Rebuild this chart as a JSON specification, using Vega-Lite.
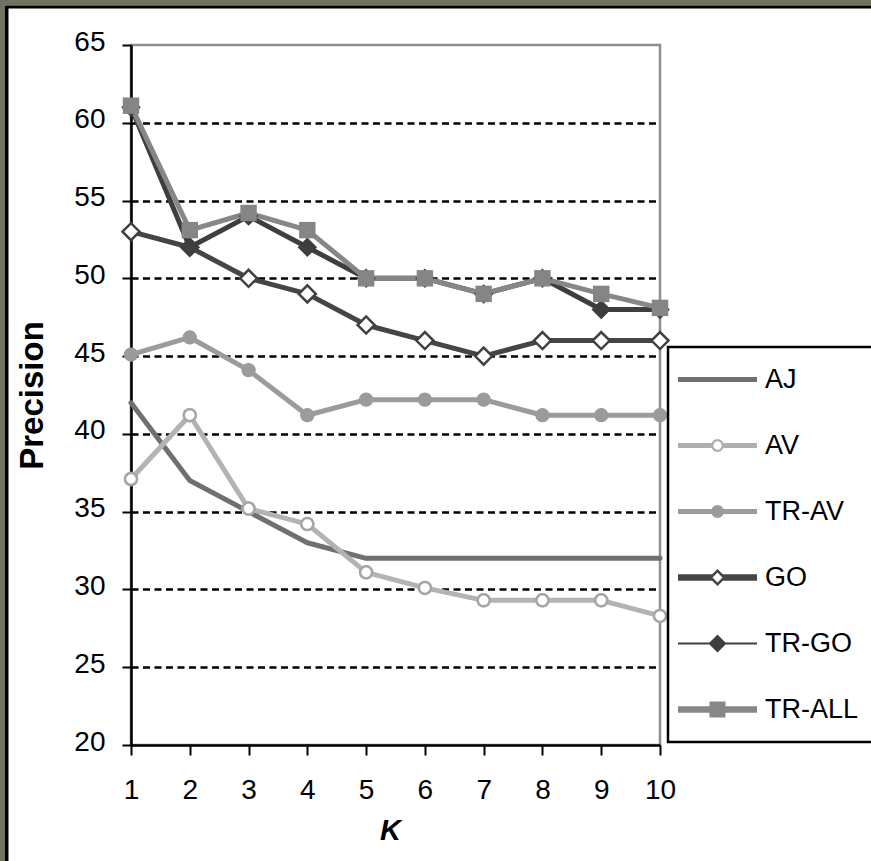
{
  "$schema": "https://vega.github.io/schema/vega-lite/v6.json",
  "width": 529,
  "height": 700,
  "autosize": {"type": "none"},
  "padding": {"left": 131, "top": 45, "right": 211, "bottom": 116},
  "background": "white",
  "config": {
    "view": {"stroke": "#8e8e8e", "strokeWidth": 2.5, "fill": "white"},
    "font": "Liberation Sans"
  },
  "datasets": {
    "precision": [
      {"k": 1, "series": "AJ", "p": 42}, {"k": 2, "series": "AJ", "p": 37}, {"k": 3, "series": "AJ", "p": 35}, {"k": 4, "series": "AJ", "p": 33}, {"k": 5, "series": "AJ", "p": 32},
      {"k": 6, "series": "AJ", "p": 32}, {"k": 7, "series": "AJ", "p": 32}, {"k": 8, "series": "AJ", "p": 32}, {"k": 9, "series": "AJ", "p": 32}, {"k": 10, "series": "AJ", "p": 32},
      {"k": 1, "series": "AV", "p": 37.1}, {"k": 2, "series": "AV", "p": 41.2}, {"k": 3, "series": "AV", "p": 35.2}, {"k": 4, "series": "AV", "p": 34.2}, {"k": 5, "series": "AV", "p": 31.1},
      {"k": 6, "series": "AV", "p": 30.1}, {"k": 7, "series": "AV", "p": 29.3}, {"k": 8, "series": "AV", "p": 29.3}, {"k": 9, "series": "AV", "p": 29.3}, {"k": 10, "series": "AV", "p": 28.3},
      {"k": 1, "series": "TR-AV", "p": 45.1}, {"k": 2, "series": "TR-AV", "p": 46.2}, {"k": 3, "series": "TR-AV", "p": 44.1}, {"k": 4, "series": "TR-AV", "p": 41.2}, {"k": 5, "series": "TR-AV", "p": 42.2},
      {"k": 6, "series": "TR-AV", "p": 42.2}, {"k": 7, "series": "TR-AV", "p": 42.2}, {"k": 8, "series": "TR-AV", "p": 41.2}, {"k": 9, "series": "TR-AV", "p": 41.2}, {"k": 10, "series": "TR-AV", "p": 41.2},
      {"k": 1, "series": "GO", "p": 53}, {"k": 2, "series": "GO", "p": 52}, {"k": 3, "series": "GO", "p": 50}, {"k": 4, "series": "GO", "p": 49}, {"k": 5, "series": "GO", "p": 47},
      {"k": 6, "series": "GO", "p": 46}, {"k": 7, "series": "GO", "p": 45}, {"k": 8, "series": "GO", "p": 46}, {"k": 9, "series": "GO", "p": 46}, {"k": 10, "series": "GO", "p": 46},
      {"k": 1, "series": "TR-GO", "p": 61}, {"k": 2, "series": "TR-GO", "p": 52}, {"k": 3, "series": "TR-GO", "p": 54}, {"k": 4, "series": "TR-GO", "p": 52}, {"k": 5, "series": "TR-GO", "p": 50},
      {"k": 6, "series": "TR-GO", "p": 50}, {"k": 7, "series": "TR-GO", "p": 49}, {"k": 8, "series": "TR-GO", "p": 50}, {"k": 9, "series": "TR-GO", "p": 48}, {"k": 10, "series": "TR-GO", "p": 48},
      {"k": 1, "series": "TR-ALL", "p": 61.1}, {"k": 2, "series": "TR-ALL", "p": 53.1}, {"k": 3, "series": "TR-ALL", "p": 54.2}, {"k": 4, "series": "TR-ALL", "p": 53.1}, {"k": 5, "series": "TR-ALL", "p": 50},
      {"k": 6, "series": "TR-ALL", "p": 50}, {"k": 7, "series": "TR-ALL", "p": 49}, {"k": 8, "series": "TR-ALL", "p": 50}, {"k": 9, "series": "TR-ALL", "p": 49}, {"k": 10, "series": "TR-ALL", "p": 48.1}
    ]
  },
  "resolve": {"scale": {"strokeWidth": "independent"}},
  "layer": [
    {
      "data": {"values": [{}]},
      "mark": {"type": "rect", "color": "#707262"},
      "encoding": {
        "x": {"datum": -3, "type": "quantitative", "scale": {"domain": [1, 10], "nice": false, "zero": false}},
        "x2": {"datum": -1.1437},
        "y": {"datum": 0, "type": "quantitative", "scale": {"domain": [20, 65], "nice": false, "zero": false}},
        "y2": {"datum": 90}
      }
    },
    {
      "data": {"values": [{}]},
      "mark": {"type": "rect", "color": "#707262"},
      "encoding": {
        "x": {"datum": -3, "type": "quantitative"},
        "x2": {"datum": 20},
        "y": {"datum": 67.54, "type": "quantitative"},
        "y2": {"datum": 90}
      }
    },
    {
      "data": {"values": [{}]},
      "mark": {"type": "rule", "color": "black", "strokeWidth": 3.5},
      "encoding": {
        "x": {"datum": -1.114, "type": "quantitative"},
        "y": {"datum": 0, "type": "quantitative"},
        "y2": {"datum": 67.5}
      }
    },
    {
      "data": {"values": [{}]},
      "mark": {"type": "rule", "color": "black", "strokeWidth": 3},
      "encoding": {
        "x": {"datum": -1.14, "type": "quantitative"},
        "x2": {"datum": 20},
        "y": {"datum": 67.443, "type": "quantitative"}
      }
    },
    {
      "data": {"name": "precision"},
      "mark": {"type": "line", "strokeCap": "round", "strokeJoin": "round"},
      "encoding": {
        "x": {
          "field": "k", "type": "quantitative",
          "scale": {"domain": [1, 10], "nice": false, "zero": false},
          "axis": {
            "title": "K", "values": [1, 2, 3, 4, 5, 6, 7, 8, 9, 10], "format": "d",
            "labelFlush": false, "labelOverlap": false, "labelBound": false,
            "labelFont": "Liberation Sans", "labelFontSize": 28, "labelColor": "black", "labelPadding": 21,
            "tickSize": 10, "tickWidth": 2, "tickColor": "black",
            "domainColor": "black", "domainWidth": 2.5, "grid": false,
            "titleFont": "Liberation Sans", "titleFontSize": 29, "titleFontWeight": "bold", "titleFontStyle": "italic",
            "titleColor": "black", "titlePadding": 12, "titleX": 259
          }
        },
        "y": {
          "field": "p", "type": "quantitative",
          "scale": {"domain": [20, 65], "nice": false, "zero": false},
          "axis": {
            "title": "Precision", "values": [20, 25, 30, 35, 40, 45, 50, 55, 60, 65],
            "labelOverlap": false, "labelBound": false,
            "labelFont": "Liberation Sans", "labelFontSize": 28, "labelColor": "black", "labelPadding": 17, "labelOffset": -3,
            "tickSize": 9, "tickWidth": 2, "tickColor": "black",
            "domainColor": "black", "domainWidth": 2.5,
            "grid": true, "gridColor": "black", "gridWidth": 2.5, "gridDash": [7, 4.5],
            "gridOpacity": {"condition": {"test": "datum.value == 20 || datum.value == 65", "value": 0}, "value": 1},
            "titleFont": "Liberation Sans", "titleFontSize": 33, "titleFontWeight": "bold",
            "titleColor": "black", "titlePadding": 24
          }
        },
        "stroke": {
          "field": "series", "type": "nominal",
          "scale": {
            "domain": ["AJ", "AV", "TR-AV", "GO", "TR-GO", "TR-ALL"],
            "range": ["#707070", "#b3b3b3", "#9b9b9b", "#454545", "#3e3e3e", "#878787"]
          },
          "legend": {
            "title": null, "orient": "none", "legendX": 537, "legendY": 302,
            "padding": 19, "fillColor": "white", "strokeColor": "black",
            "labelFont": "Liberation Sans", "labelFontSize": 27, "labelColor": "black",
            "labelOffset": 34, "symbolOffset": 17, "rowPadding": 38, "symbolSize": 400, "labelLimit": 0,
            "encode": {
              "legend": {"update": {"strokeWidth": {"value": 2.5}}},
              "symbols": {
                "update": {
                  "shape": {"signal": "datum.value === 'AJ' ? 'M-3.95,-0.25H3.95V0.25H-3.95Z' : datum.value === 'AV' ? 'M-3.95,-0.25H-0.6V0.25H-3.95Z M0.6,-0.25H3.95V0.25H0.6Z M0.65,0L0.563,0.325L0.325,0.563L0,0.65L-0.325,0.563L-0.563,0.325L-0.65,0L-0.563,-0.325L-0.325,-0.563L0,-0.65L0.325,-0.563L0.563,-0.325Z M0.42,0L0.364,-0.21L0.21,-0.364L0,-0.42L-0.21,-0.364L-0.364,-0.21L-0.42,0L-0.364,0.21L-0.21,0.364L0,0.42L0.21,0.364L0.364,0.21Z' : datum.value === 'TR-AV' ? 'M-3.95,-0.25H3.95V0.25H-3.95Z M0.65,0L0.563,0.325L0.325,0.563L0,0.65L-0.325,0.563L-0.563,0.325L-0.65,0L-0.563,-0.325L-0.325,-0.563L0,-0.65L0.325,-0.563L0.563,-0.325Z' : datum.value === 'GO' ? 'M-3.95,-0.32H-0.53V0.32H-3.95Z M0.53,-0.32H3.95V0.32H0.53Z M0.85,0L0,0.85L-0.85,0L0,-0.85Z M0.5,0L0,-0.5L-0.5,0L0,0.5Z' : datum.value === 'TR-GO' ? 'M-3.95,-0.1H3.95V0.1H-3.95Z M0.9,0L0,0.9L-0.9,0L0,-0.9Z' : 'M-3.95,-0.32H3.95V0.32H-3.95Z M-0.8,-0.8H0.8V0.8H-0.8Z'"},
                  "fill": {"signal": "datum.value === 'AJ' ? '#707070' : datum.value === 'AV' ? '#aeaeae' : datum.value === 'TR-AV' ? '#9b9b9b' : datum.value === 'GO' ? '#454545' : datum.value === 'TR-GO' ? '#3e3e3e' : '#878787'"},
                  "stroke": {"value": "transparent"},
                  "strokeWidth": {"value": 0},
                  "size": {"value": 400},
                  "opacity": {"value": 1}
                }
              }
            }
          }
        },
        "strokeWidth": {
          "field": "series", "type": "nominal",
          "scale": {"domain": ["AJ", "AV", "TR-AV", "GO", "TR-GO", "TR-ALL"], "range": [5, 5, 5, 6.5, 2, 6.5]},
          "legend": null
        }
      }
    },
    {
      "data": {"name": "precision"},
      "transform": [{"filter": "datum.series !== 'AJ'"}],
      "mark": {"type": "point", "opacity": 1},
      "encoding": {
        "x": {"field": "k", "type": "quantitative"},
        "y": {"field": "p", "type": "quantitative"},
        "stroke": {"field": "series", "type": "nominal"},
        "fill": {
          "field": "series", "type": "nominal",
          "scale": {"domain": ["AV", "TR-AV", "GO", "TR-GO", "TR-ALL"], "range": ["white", "#9b9b9b", "white", "#3e3e3e", "#858585"]},
          "legend": null
        },
        "shape": {
          "field": "series", "type": "nominal",
          "scale": {"domain": ["AV", "TR-AV", "GO", "TR-GO", "TR-ALL"], "range": ["circle", "circle", "diamond", "diamond", "square"]},
          "legend": null
        },
        "size": {
          "field": "series", "type": "nominal",
          "scale": {"domain": ["AV", "TR-AV", "GO", "TR-GO", "TR-ALL"], "range": [144, 185, 300, 400, 300]},
          "legend": null
        },
        "strokeWidth": {
          "field": "series", "type": "nominal",
          "scale": {"domain": ["AV", "TR-AV", "GO", "TR-GO", "TR-ALL"], "range": [2.5, 0, 2.5, 0, 0]},
          "legend": null
        }
      }
    },
    {
      "data": {"name": "precision"},
      "transform": [{"filter": "datum.series === 'AV'"}],
      "mark": {"type": "point", "shape": "circle", "size": 144, "fill": "white", "stroke": "#a6a6a6", "strokeWidth": 2.5, "opacity": 1},
      "encoding": {
        "x": {"field": "k", "type": "quantitative"},
        "y": {"field": "p", "type": "quantitative"}
      }
    },
    {
      "data": {"name": "precision"},
      "transform": [{"filter": "datum.series === 'TR-AV'"}],
      "mark": {"type": "point", "shape": "circle", "size": 180, "fill": "#9b9b9b", "strokeWidth": 0, "opacity": 1},
      "encoding": {
        "x": {"field": "k", "type": "quantitative"},
        "y": {"field": "p", "type": "quantitative"}
      }
    },
    {
      "data": {"name": "precision"},
      "transform": [{"filter": "datum.series === 'GO'"}],
      "mark": {"type": "point", "shape": "diamond", "size": 290, "fill": "white", "stroke": "#404040", "strokeWidth": 2.5, "opacity": 1},
      "encoding": {
        "x": {"field": "k", "type": "quantitative"},
        "y": {"field": "p", "type": "quantitative"}
      }
    },
    {
      "data": {"name": "precision"},
      "transform": [{"filter": "datum.series === 'TR-GO'"}],
      "mark": {"type": "point", "shape": "diamond", "size": 380, "fill": "#3e3e3e", "strokeWidth": 0, "opacity": 1},
      "encoding": {
        "x": {"field": "k", "type": "quantitative"},
        "y": {"field": "p", "type": "quantitative"}
      }
    },
    {
      "data": {"name": "precision"},
      "transform": [{"filter": "datum.series === 'TR-ALL'"}],
      "mark": {"type": "point", "shape": "square", "size": 270, "fill": "#858585", "strokeWidth": 0, "opacity": 1},
      "encoding": {
        "x": {"field": "k", "type": "quantitative"},
        "y": {"field": "p", "type": "quantitative"}
      }
    }
  ]
}
